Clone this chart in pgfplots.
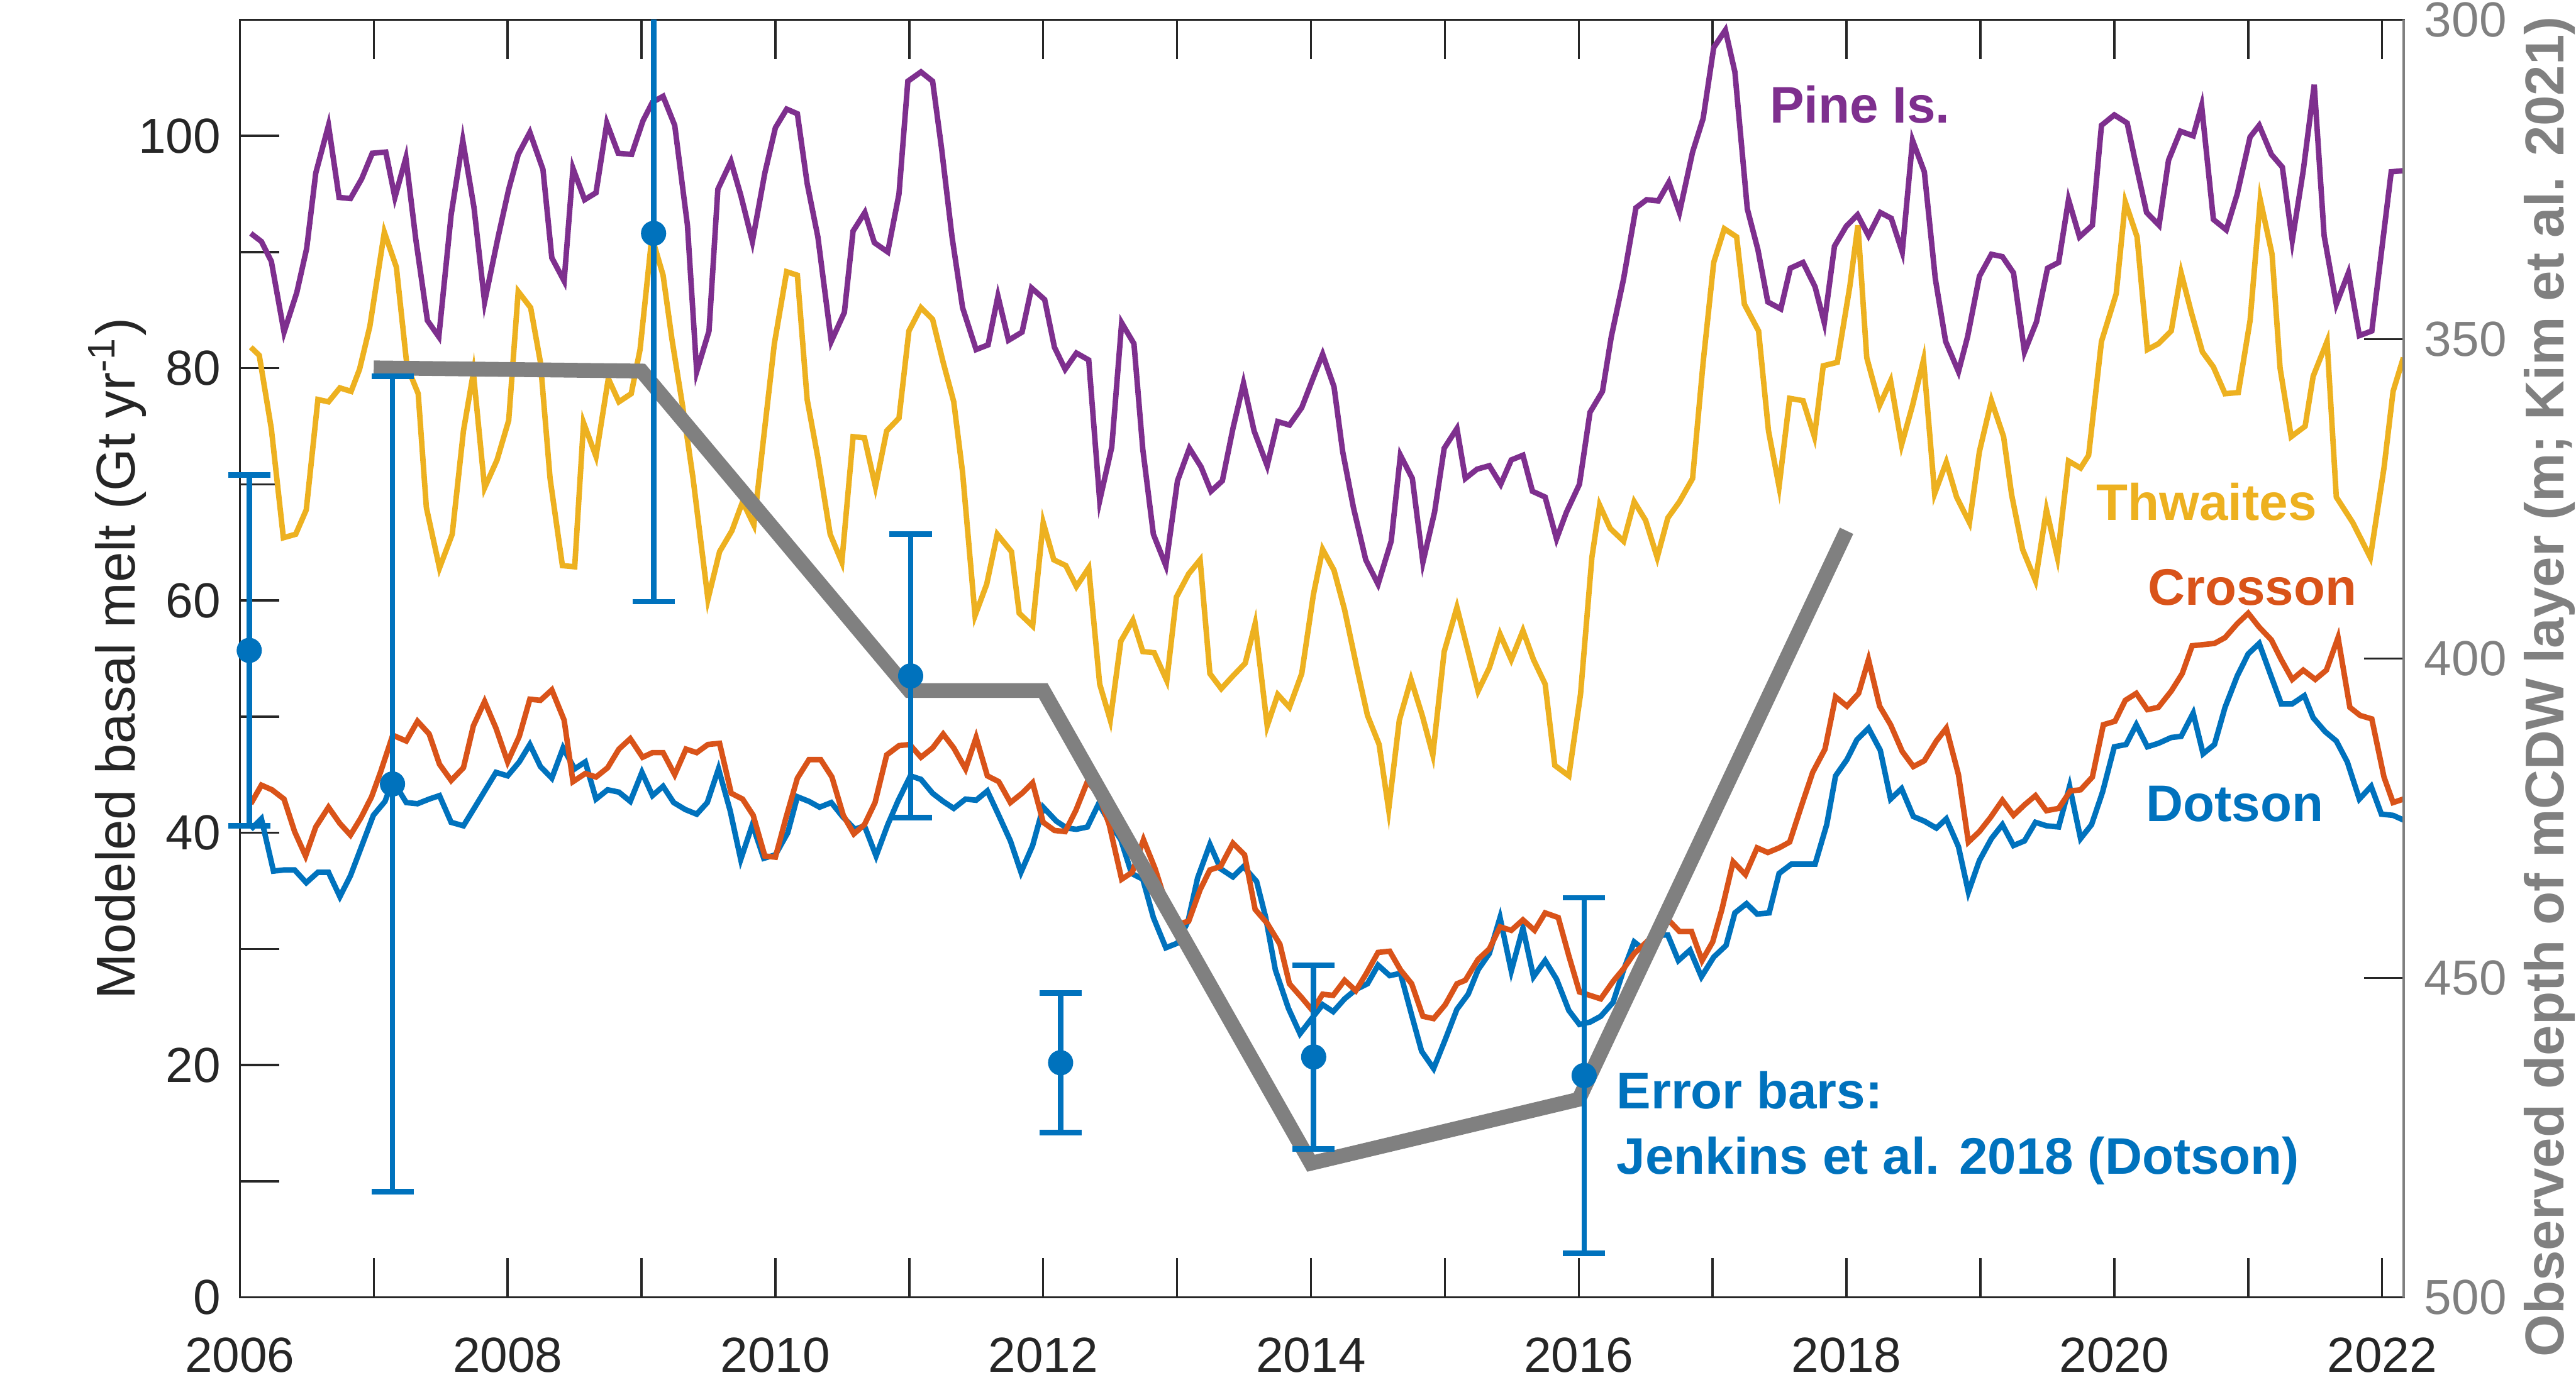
\documentclass[border=0pt]{standalone}
\usepackage{fontspec}
\setmainfont{Liberation Sans}
\usepackage{pgfplots}
\pgfplotsset{compat=1.18}
\definecolor{mblue}{rgb}{0,0.447,0.741}
\definecolor{morange}{rgb}{0.85,0.325,0.098}
\definecolor{myellow}{rgb}{0.929,0.694,0.125}
\definecolor{mpurple}{rgb}{0.494,0.184,0.556}
\definecolor{mgray}{rgb}{0.5,0.5,0.5}
\definecolor{axgray}{rgb}{0.15,0.15,0.15}
\tikzset{annot/.style={font=\fontsize{9.4}{11}\selectfont\bfseries, inner sep=0pt}}
\begin{document}
\begin{tikzpicture}
\pgfplotsset{
  common/.style={width=395.1pt, height=233.4pt, scale only axis, xmin=2006, xmax=2022.16,
    tick align=inside, major tick length=7.2pt, minor tick length=7.2pt},
}
\begin{axis}[common, name=ax,
  ymin=0, ymax=110,
  xtick={2006,2008,...,2022}, minor xtick={2007,2009,...,2021},
  xticklabels={2006,2008,2010,2012,2014,2016,2018,2020,2022},
  ytick={0,20,...,100}, minor ytick={10,30,...,110},
  yticklabels={0,20,40,60,80,100},
  xtick pos=both, ytick pos=left,
  axis line style={color=axgray, line width=0.4pt},
  major tick style={color=axgray, line width=0.4pt},
  minor tick style={color=axgray, line width=0.4pt},
  xticklabel style={font=\fontsize{9}{10.8}\selectfont, text=axgray, anchor=north, inner sep=0pt, yshift=-7.2pt},
  yticklabel style={font=\fontsize{9}{10.8}\selectfont, text=axgray, anchor=east, inner sep=0pt, xshift=-3.3pt},
  every axis y label/.style={at={(axis description cs:-0.0486,0.5)}, rotate=90, anchor=base,
    font=\fontsize{10}{12}\selectfont, text=axgray, inner sep=0pt},
  ylabel={Modeled basal melt (Gt yr\textsuperscript{-1})},
]
% Dotson
\addplot[mblue, line width=1pt] coordinates {
(2006.082,40.3)(2006.161,41.2)(2006.251,36.7)(2006.330,36.8)(2006.409,36.8)(2006.496,35.7)(2006.583,36.6)(2006.662,36.6)(2006.747,34.5)(2006.826,36.3)(2006.905,38.7)(2006.997,41.5)
(2007.084,42.7)(2007.142,44.5)(2007.243,42.6)(2007.327,42.5)(2007.414,42.9)(2007.491,43.2)(2007.578,40.9)(2007.670,40.6)(2007.755,42.2)(2007.834,43.7)(2007.913,45.2)
(2008.000,44.9)(2008.087,46.1)(2008.166,47.6)(2008.245,45.7)(2008.330,44.7)(2008.414,47.3)(2008.501,45.5)(2008.580,46.1)(2008.660,42.9)(2008.747,43.7)(2008.831,43.5)(2008.916,42.7)
(2009.003,45.2)(2009.082,43.2)(2009.161,44.0)(2009.240,42.6)(2009.327,42.0)(2009.412,41.6)(2009.491,42.6)(2009.575,45.5)(2009.662,41.9)(2009.741,37.7)(2009.828,40.7)(2009.913,37.8)
(2010.000,38.1)(2010.092,40.0)(2010.164,43.1)(2010.251,42.7)(2010.330,42.2)(2010.417,42.6)(2010.501,41.4)(2010.594,40.3)(2010.665,40.6)(2010.752,38.0)(2010.839,40.7)(2010.918,42.8)
(2011.008,44.9)(2011.087,44.6)(2011.174,43.4)(2011.253,42.7)(2011.332,42.1)(2011.420,42.9)(2011.499,42.8)(2011.583,43.6)(2011.668,41.5)(2011.755,39.3)(2011.834,36.6)(2011.921,38.9)
(2012.000,42.2)(2012.098,41.0)(2012.177,40.4)(2012.248,40.3)(2012.330,40.5)(2012.414,42.5)(2012.501,40.8)(2012.580,39.4)(2012.660,36.5)(2012.744,36.0)(2012.823,32.7)(2012.916,30.1)
(2013.003,30.5)(2013.082,32.4)(2013.153,36.1)(2013.245,39.0)(2013.325,36.9)(2013.417,36.2)(2013.496,37.1)(2013.594,35.8)(2013.662,32.7)(2013.734,28.2)(2013.831,24.9)(2013.918,22.7)
(2014.005,24.0)(2014.087,25.2)(2014.166,24.6)(2014.251,25.7)(2014.335,26.5)(2014.422,27.0)(2014.501,28.6)(2014.588,27.7)(2014.668,27.9)(2014.752,24.3)(2014.826,21.2)(2014.916,19.7)
(2015.003,22.2)(2015.090,24.8)(2015.174,26.1)(2015.248,28.2)(2015.332,29.6)(2015.412,32.7)(2015.496,28.1)(2015.583,31.8)(2015.662,27.6)(2015.749,29.0)(2015.834,27.4)(2015.926,24.7)
(2016.005,23.5)(2016.084,23.7)(2016.164,24.2)(2016.256,25.4)(2016.335,28.2)(2016.414,30.6)(2016.480,30.0)(2016.560,31.2)(2016.665,31.2)(2016.744,29.0)(2016.831,29.9)(2016.916,27.6)
(2017.008,29.3)(2017.100,30.3)(2017.166,33.1)(2017.253,33.9)(2017.332,33.0)(2017.422,33.1)(2017.496,36.5)(2017.588,37.3)(2017.680,37.3)(2017.765,37.3)(2017.852,40.7)(2017.918,44.9)
(2018.003,46.3)(2018.077,48.0)(2018.164,49.0)(2018.252,47.1)(2018.329,42.9)(2018.411,43.8)(2018.499,41.4)(2018.581,41.0)(2018.671,40.4)(2018.745,41.2)(2018.836,38.8)(2018.910,34.9)
(2018.992,37.6)(2019.082,39.5)(2019.164,40.7)(2019.247,38.9)(2019.329,39.3)(2019.411,40.9)(2019.493,40.6)(2019.584,40.5)(2019.666,44.0)(2019.748,39.5)(2019.830,40.7)(2019.912,43.5)
(2020.000,47.4)(2020.088,47.6)(2020.164,49.3)(2020.247,47.4)(2020.329,47.7)(2020.425,48.2)(2020.499,48.3)(2020.589,50.3)(2020.663,46.8)(2020.748,47.6)(2020.827,50.8)(2020.918,53.5)
(2021.000,55.4)(2021.082,56.3)(2021.164,53.7)(2021.247,51.1)(2021.329,51.1)(2021.419,51.8)(2021.485,49.9)(2021.575,48.7)(2021.658,47.9)(2021.740,46.1)(2021.830,42.9)(2021.918,44.0)
(2021.995,41.6)(2022.082,41.5)(2022.159,41.1)
};
% Crosson
\addplot[morange, line width=1pt] coordinates {
(2006.082,42.5)(2006.161,44.1)(2006.240,43.7)(2006.330,42.9)(2006.409,40.1)(2006.491,38.0)(2006.567,40.5)(2006.662,42.2)(2006.747,40.8)(2006.826,39.8)(2006.905,41.3)(2006.984,43.1)
(2007.050,45.2)(2007.142,48.4)(2007.243,47.9)(2007.327,49.6)(2007.414,48.5)(2007.491,45.9)(2007.578,44.5)(2007.670,45.6)(2007.744,49.2)(2007.828,51.3)(2007.913,49.0)
(2008.000,46.1)(2008.087,48.3)(2008.166,51.5)(2008.245,51.4)(2008.330,52.3)(2008.422,49.7)(2008.488,44.4)(2008.580,45.1)(2008.660,44.8)(2008.747,45.6)(2008.831,47.2)(2008.916,48.1)
(2009.008,46.5)(2009.082,46.9)(2009.161,46.9)(2009.248,45.0)(2009.332,47.2)(2009.412,46.9)(2009.496,47.6)(2009.583,47.7)(2009.670,43.4)(2009.755,42.9)(2009.834,41.5)(2009.921,38.0)
(2010.000,37.9)(2010.079,41.3)(2010.164,44.7)(2010.251,46.3)(2010.338,46.3)(2010.422,44.8)(2010.507,41.5)(2010.586,39.9)(2010.665,40.7)(2010.744,42.6)(2010.831,46.7)(2010.923,47.5)
(2011.003,47.6)(2011.087,46.5)(2011.174,47.3)(2011.253,48.5)(2011.332,47.3)(2011.420,45.5)(2011.499,48.2)(2011.583,44.9)(2011.668,44.4)(2011.755,42.6)(2011.842,43.4)(2011.921,44.3)
(2012.000,40.9)(2012.084,40.2)(2012.164,40.1)(2012.243,41.9)(2012.330,44.4)(2012.414,43.3)(2012.493,40.7)(2012.586,36.0)(2012.665,36.6)(2012.749,39.4)(2012.836,36.9)(2012.902,34.5)
(2013.003,32.1)(2013.087,32.4)(2013.172,35.1)(2013.245,36.8)(2013.325,37.1)(2013.417,39.1)(2013.504,38.1)(2013.583,33.4)(2013.673,32.2)(2013.768,30.4)(2013.839,27.0)(2013.931,25.8)
(2014.011,24.7)(2014.087,26.1)(2014.166,26.0)(2014.251,27.3)(2014.335,26.4)(2014.409,27.8)(2014.501,29.7)(2014.588,29.8)(2014.668,28.2)(2014.752,27.0)(2014.836,24.2)(2014.916,24.0)
(2015.003,25.2)(2015.090,27.0)(2015.153,27.3)(2015.248,29.1)(2015.332,30.0)(2015.412,31.9)(2015.496,31.6)(2015.583,32.5)(2015.670,31.6)(2015.749,33.1)(2015.847,32.7)(2015.926,29.4)
(2016.005,26.3)(2016.084,26.0)(2016.164,25.7)(2016.256,27.2)(2016.335,28.3)(2016.414,29.6)(2016.507,30.6)(2016.586,31.5)(2016.678,32.4)(2016.752,31.5)(2016.842,31.5)(2016.921,29.0)
(2017.000,30.6)(2017.069,33.4)(2017.153,37.5)(2017.245,36.4)(2017.332,38.7)(2017.412,38.3)(2017.496,38.7)(2017.575,39.2)(2017.660,42.2)(2017.747,45.2)(2017.839,47.2)(2017.918,51.7)
(2018.003,50.9)(2018.090,52.0)(2018.164,54.9)(2018.247,50.9)(2018.329,49.3)(2018.416,47.0)(2018.499,45.7)(2018.581,46.2)(2018.671,47.9)(2018.745,49.0)(2018.836,45.0)(2018.910,39.2)
(2018.992,40.1)(2019.074,41.3)(2019.164,42.8)(2019.247,41.5)(2019.329,42.4)(2019.411,43.2)(2019.493,41.9)(2019.584,42.1)(2019.671,43.6)(2019.748,43.7)(2019.836,44.8)(2019.918,49.3)
(2020.005,49.6)(2020.082,51.4)(2020.164,52.0)(2020.247,50.6)(2020.329,50.8)(2020.425,52.2)(2020.507,53.7)(2020.581,56.1)(2020.665,56.2)(2020.748,56.3)(2020.827,56.8)(2020.918,58.0)
(2021.000,58.9)(2021.082,57.7)(2021.173,56.6)(2021.247,54.9)(2021.329,53.2)(2021.411,54.0)(2021.501,53.2)(2021.584,54.0)(2021.671,56.8)(2021.759,50.8)(2021.836,50.1)(2021.923,49.8)
(2022.014,44.8)(2022.082,42.6)(2022.159,42.9)
};
% Thwaites
\addplot[myellow, line width=1pt] coordinates {
(2006.082,81.8)(2006.145,81.1)(2006.235,74.8)(2006.325,65.4)(2006.417,65.7)(2006.496,67.8)(2006.583,77.3)(2006.662,77.1)(2006.747,78.3)(2006.831,78.0)(2006.894,79.9)(2006.971,83.6)
(2007.079,91.7)(2007.169,88.7)(2007.248,80.2)(2007.332,77.8)(2007.393,68.0)(2007.491,62.8)(2007.586,65.7)(2007.670,74.6)(2007.744,79.6)(2007.828,69.7)(2007.921,72.1)
(2008.008,75.5)(2008.079,86.6)(2008.172,85.2)(2008.245,80.5)(2008.317,70.5)(2008.409,63.0)(2008.501,62.9)(2008.567,75.3)(2008.660,72.4)(2008.752,79.1)(2008.831,77.1)(2008.923,77.8)
(2008.989,81.6)(2009.077,91.3)(2009.161,88.0)(2009.227,82.5)(2009.306,76.8)(2009.385,70.5)(2009.496,60.1)(2009.583,64.2)(2009.675,66.0)(2009.755,68.5)(2009.839,66.5)(2009.913,74.1)
(2009.992,82.1)(2010.084,88.3)(2010.164,88.0)(2010.237,77.3)(2010.317,72.3)(2010.409,65.7)(2010.496,63.3)(2010.580,74.1)(2010.665,74.0)(2010.747,69.8)(2010.831,74.6)(2010.923,75.7)
(2010.997,83.2)(2011.087,85.2)(2011.174,84.2)(2011.253,80.5)(2011.332,77.1)(2011.398,71.0)(2011.491,58.7)(2011.578,61.4)(2011.657,65.7)(2011.763,64.2)(2011.821,58.9)(2011.921,57.8)
(2012.000,66.7)(2012.079,63.5)(2012.169,63.0)(2012.248,61.2)(2012.340,62.8)(2012.422,52.8)(2012.501,49.7)(2012.580,56.5)(2012.670,58.3)(2012.744,55.6)(2012.829,55.5)(2012.923,53.1)
(2012.995,60.3)(2013.087,62.3)(2013.172,63.5)(2013.245,53.7)(2013.330,52.4)(2013.417,53.5)(2013.509,54.6)(2013.583,58.0)(2013.673,49.2)(2013.752,51.9)(2013.839,50.8)(2013.931,53.7)
(2014.018,60.5)(2014.087,64.4)(2014.172,62.6)(2014.251,59.2)(2014.343,54.2)(2014.422,50.1)(2014.509,47.6)(2014.580,42.0)(2014.660,49.7)(2014.747,53.2)(2014.831,50.1)(2014.910,46.7)
(2014.995,55.6)(2015.090,59.4)(2015.174,55.6)(2015.248,52.2)(2015.332,54.2)(2015.412,57.1)(2015.496,54.9)(2015.583,57.4)(2015.662,54.9)(2015.749,52.8)(2015.821,45.8)(2015.926,44.9)
(2016.013,51.9)(2016.098,63.7)(2016.156,68.2)(2016.235,66.2)(2016.335,65.1)(2016.414,68.5)(2016.499,66.9)(2016.586,63.7)(2016.665,67.1)(2016.752,68.5)(2016.850,70.5)(2016.929,80.5)
(2017.008,89.1)(2017.087,92.0)(2017.179,91.3)(2017.237,85.5)(2017.343,83.2)(2017.417,74.6)(2017.496,69.8)(2017.575,77.4)(2017.675,77.2)(2017.760,74.1)(2017.826,80.2)(2017.931,80.5)
(2018.024,87.0)(2018.085,92.3)(2018.151,80.9)(2018.247,76.8)(2018.329,78.9)(2018.411,73.4)(2018.493,76.8)(2018.575,80.7)(2018.658,69.2)(2018.745,71.9)(2018.822,68.9)(2018.918,66.7)
(2018.992,72.8)(2019.082,77.2)(2019.173,74.1)(2019.233,69.1)(2019.315,64.4)(2019.411,61.7)(2019.493,67.8)(2019.575,63.7)(2019.658,72.0)(2019.748,71.4)(2019.808,72.5)(2019.904,82.3)
(2020.014,86.4)(2020.082,94.3)(2020.170,91.3)(2020.247,81.6)(2020.329,82.1)(2020.425,83.2)(2020.499,88.2)(2020.575,84.8)(2020.658,81.4)(2020.740,80.1)(2020.827,77.8)(2020.926,77.9)
(2021.014,84.1)(2021.090,94.5)(2021.178,89.8)(2021.238,80.0)(2021.321,74.1)(2021.425,75.0)(2021.485,79.3)(2021.589,82.3)(2021.658,68.9)(2021.781,66.7)(2021.912,63.7)(2022.014,71.4)
(2022.082,78.0)(2022.159,80.9)
};
% Pine Island
\addplot[mpurple, line width=1pt] coordinates {
(2006.082,91.6)(2006.161,90.9)(2006.235,89.2)(2006.330,83.1)(2006.425,86.5)(2006.499,90.3)(2006.567,96.8)(2006.662,100.9)(2006.741,94.7)(2006.826,94.6)(2006.910,96.3)(2006.989,98.5)
(2007.090,98.6)(2007.158,94.7)(2007.240,98.1)(2007.314,91.1)(2007.401,84.1)(2007.486,82.7)(2007.578,93.2)(2007.665,99.6)(2007.749,93.8)(2007.828,85.7)(2007.929,91.3)
(2008.008,95.4)(2008.079,98.4)(2008.166,100.3)(2008.264,97.1)(2008.330,89.5)(2008.422,87.5)(2008.488,97.2)(2008.575,94.5)(2008.660,95.1)(2008.741,101.1)(2008.826,98.5)(2008.926,98.4)
(2009.011,101.3)(2009.082,102.9)(2009.161,103.4)(2009.248,100.9)(2009.343,92.3)(2009.412,79.7)(2009.504,83.2)(2009.570,95.4)(2009.668,97.8)(2009.741,94.9)(2009.828,90.9)(2009.921,96.8)
(2010.000,100.7)(2010.084,102.3)(2010.164,101.9)(2010.237,95.9)(2010.317,91.3)(2010.417,82.3)(2010.515,84.8)(2010.580,91.8)(2010.668,93.4)(2010.739,90.8)(2010.839,90.0)(2010.923,95.0)
(2010.989,104.7)(2011.087,105.5)(2011.174,104.7)(2011.240,99.0)(2011.319,91.3)(2011.398,85.2)(2011.499,81.6)(2011.588,82.0)(2011.662,86.2)(2011.741,82.4)(2011.842,83.1)(2011.913,86.9)
(2012.011,85.9)(2012.084,81.8)(2012.164,79.9)(2012.248,81.3)(2012.340,80.7)(2012.422,68.6)(2012.512,73.2)(2012.586,83.9)(2012.678,82.1)(2012.744,73.0)(2012.823,65.7)(2012.916,63.0)
(2013.003,70.3)(2013.092,73.1)(2013.179,71.5)(2013.253,69.4)(2013.338,70.3)(2013.417,74.8)(2013.496,78.7)(2013.575,74.6)(2013.673,71.6)(2013.752,75.4)(2013.839,75.1)(2013.931,76.6)
(2014.018,79.2)(2014.087,81.2)(2014.172,78.4)(2014.237,72.8)(2014.317,68.0)(2014.409,63.5)(2014.501,61.4)(2014.599,65.1)(2014.668,72.5)(2014.757,70.5)(2014.836,63.3)(2014.923,67.6)
(2014.995,73.1)(2015.090,74.8)(2015.153,70.5)(2015.240,71.3)(2015.332,71.6)(2015.417,70.0)(2015.496,72.1)(2015.583,72.5)(2015.654,69.4)(2015.749,68.9)(2015.834,65.3)(2015.908,67.6)
(2016.005,70.0)(2016.084,76.2)(2016.177,78.0)(2016.243,82.7)(2016.335,87.7)(2016.427,93.8)(2016.507,94.5)(2016.594,94.4)(2016.673,96.0)(2016.752,93.4)(2016.850,98.6)(2016.929,101.5)
(2017.008,107.6)(2017.095,109.1)(2017.166,105.5)(2017.259,93.7)(2017.338,90.2)(2017.412,85.7)(2017.509,85.1)(2017.580,88.6)(2017.675,89.1)(2017.765,87.0)(2017.834,83.9)(2017.910,90.5)
(2017.997,92.2)(2018.082,93.2)(2018.164,91.4)(2018.252,93.4)(2018.334,92.9)(2018.416,90.0)(2018.493,99.6)(2018.581,96.9)(2018.663,87.7)(2018.740,82.3)(2018.836,79.7)(2018.904,82.7)
(2018.992,87.9)(2019.082,89.8)(2019.164,89.6)(2019.247,88.2)(2019.329,81.4)(2019.419,84.0)(2019.501,88.6)(2019.584,89.1)(2019.658,94.5)(2019.740,91.3)(2019.836,92.3)(2019.904,100.9)
(2020.000,101.8)(2020.096,101.1)(2020.151,98.1)(2020.241,93.4)(2020.334,92.3)(2020.405,97.9)(2020.493,100.4)(2020.589,100.0)(2020.652,102.6)(2020.740,92.8)(2020.836,91.9)(2020.918,95.0)
(2021.014,99.9)(2021.082,100.9)(2021.173,98.4)(2021.255,97.3)(2021.329,91.0)(2021.411,97.0)(2021.493,104.4)(2021.567,91.4)(2021.658,85.5)(2021.748,88.2)(2021.830,82.8)(2021.923,83.2)
(2022.068,96.9)(2022.159,97.0)
};
\node[annot, text=mpurple] at (axis cs:2018.10,102.7) {Pine Is.};
\node[annot, text=myellow] at (axis cs:2020.69,68.5) {Thwaites};
\node[annot, text=morange] at (axis cs:2021.03,61.1) {Crosson};
\node[annot, text=mblue] at (axis cs:2020.90,42.5) {Dotson};
\node[annot, text=mblue, anchor=base west] at (axis cs:2016.275,16.26) {Error bars:};
\node[annot, text=mblue, anchor=base west] at (axis cs:2016.275,10.6) {Jenkins et al. 2018 (Dotson)};
\end{axis}
\begin{axis}[common,
  ymin=300, ymax=500, y dir=reverse,
  axis x line=none, axis y line*=right,
  ytick={300,350,...,500}, yticklabels={300,350,400,450,500},
  axis line style={color=mgray, line width=0.4pt},
  major tick style={color=axgray, line width=0.4pt},
  yticklabel style={font=\fontsize{9}{10.8}\selectfont, text=mgray, anchor=west, inner sep=0pt, xshift=3.6pt},
  every axis y label/.style={at={(axis description cs:1.0676,0.478)}, rotate=90, anchor=center,
    font=\fontsize{10}{12}\selectfont\bfseries, text=mgray, inner sep=0pt},
  ylabel={Observed depth of mCDW layer (m; Kim et al. 2021)},
]
\addplot[mgray, line width=2.7pt] coordinates {
(2007.0,354.5)(2009.0,355.0)(2011.0,405.0)(2012.0,405.0)(2014.0,479.0)(2016.0,469.0)(2018.0,380.0)
};
\end{axis}
\begin{axis}[common, ymin=0, ymax=110, hide axis]
% Jenkins et al. 2018 estimates with symmetric errors
\addplot[mblue, only marks, mark=*, mark size=1.8pt, line width=1pt,
  error bars/.cd, y dir=both, y explicit,
  error bar style={line width=1pt, mblue}, error mark=none]
coordinates {
(2006.07,55.7) +- (0,15.1)
(2007.14,44.2) +- (0,35.1)
(2009.09,91.6) +- (0,31.7)
(2011.01,53.5) +- (0,12.2)
(2012.13,20.2) +- (0,6.0)
(2014.02,20.7) +- (0,7.9)
(2016.04,19.1) +- (0,15.3)
};
% caps at the ends of the error bars (value +/- error)
\addplot[mblue, only marks, mark=-, mark size=3.85pt, mark options={line width=1pt, mblue}]
coordinates {
(2006.07,70.8)(2006.07,40.6)
(2007.14,79.3)(2007.14,9.1)
(2009.09,59.9)
(2011.01,65.7)(2011.01,41.3)
(2012.13,26.2)(2012.13,14.2)
(2014.02,28.6)(2014.02,12.8)
(2016.04,34.4)(2016.04,3.8)
};
\end{axis}
\pgfresetboundingbox
\path[use as bounding box] ([shift={(-43.8pt,-15.9pt)}]ax.south west) rectangle ([shift={(31.5pt,3.6pt)}]ax.north east);
\end{tikzpicture}
\end{document}
